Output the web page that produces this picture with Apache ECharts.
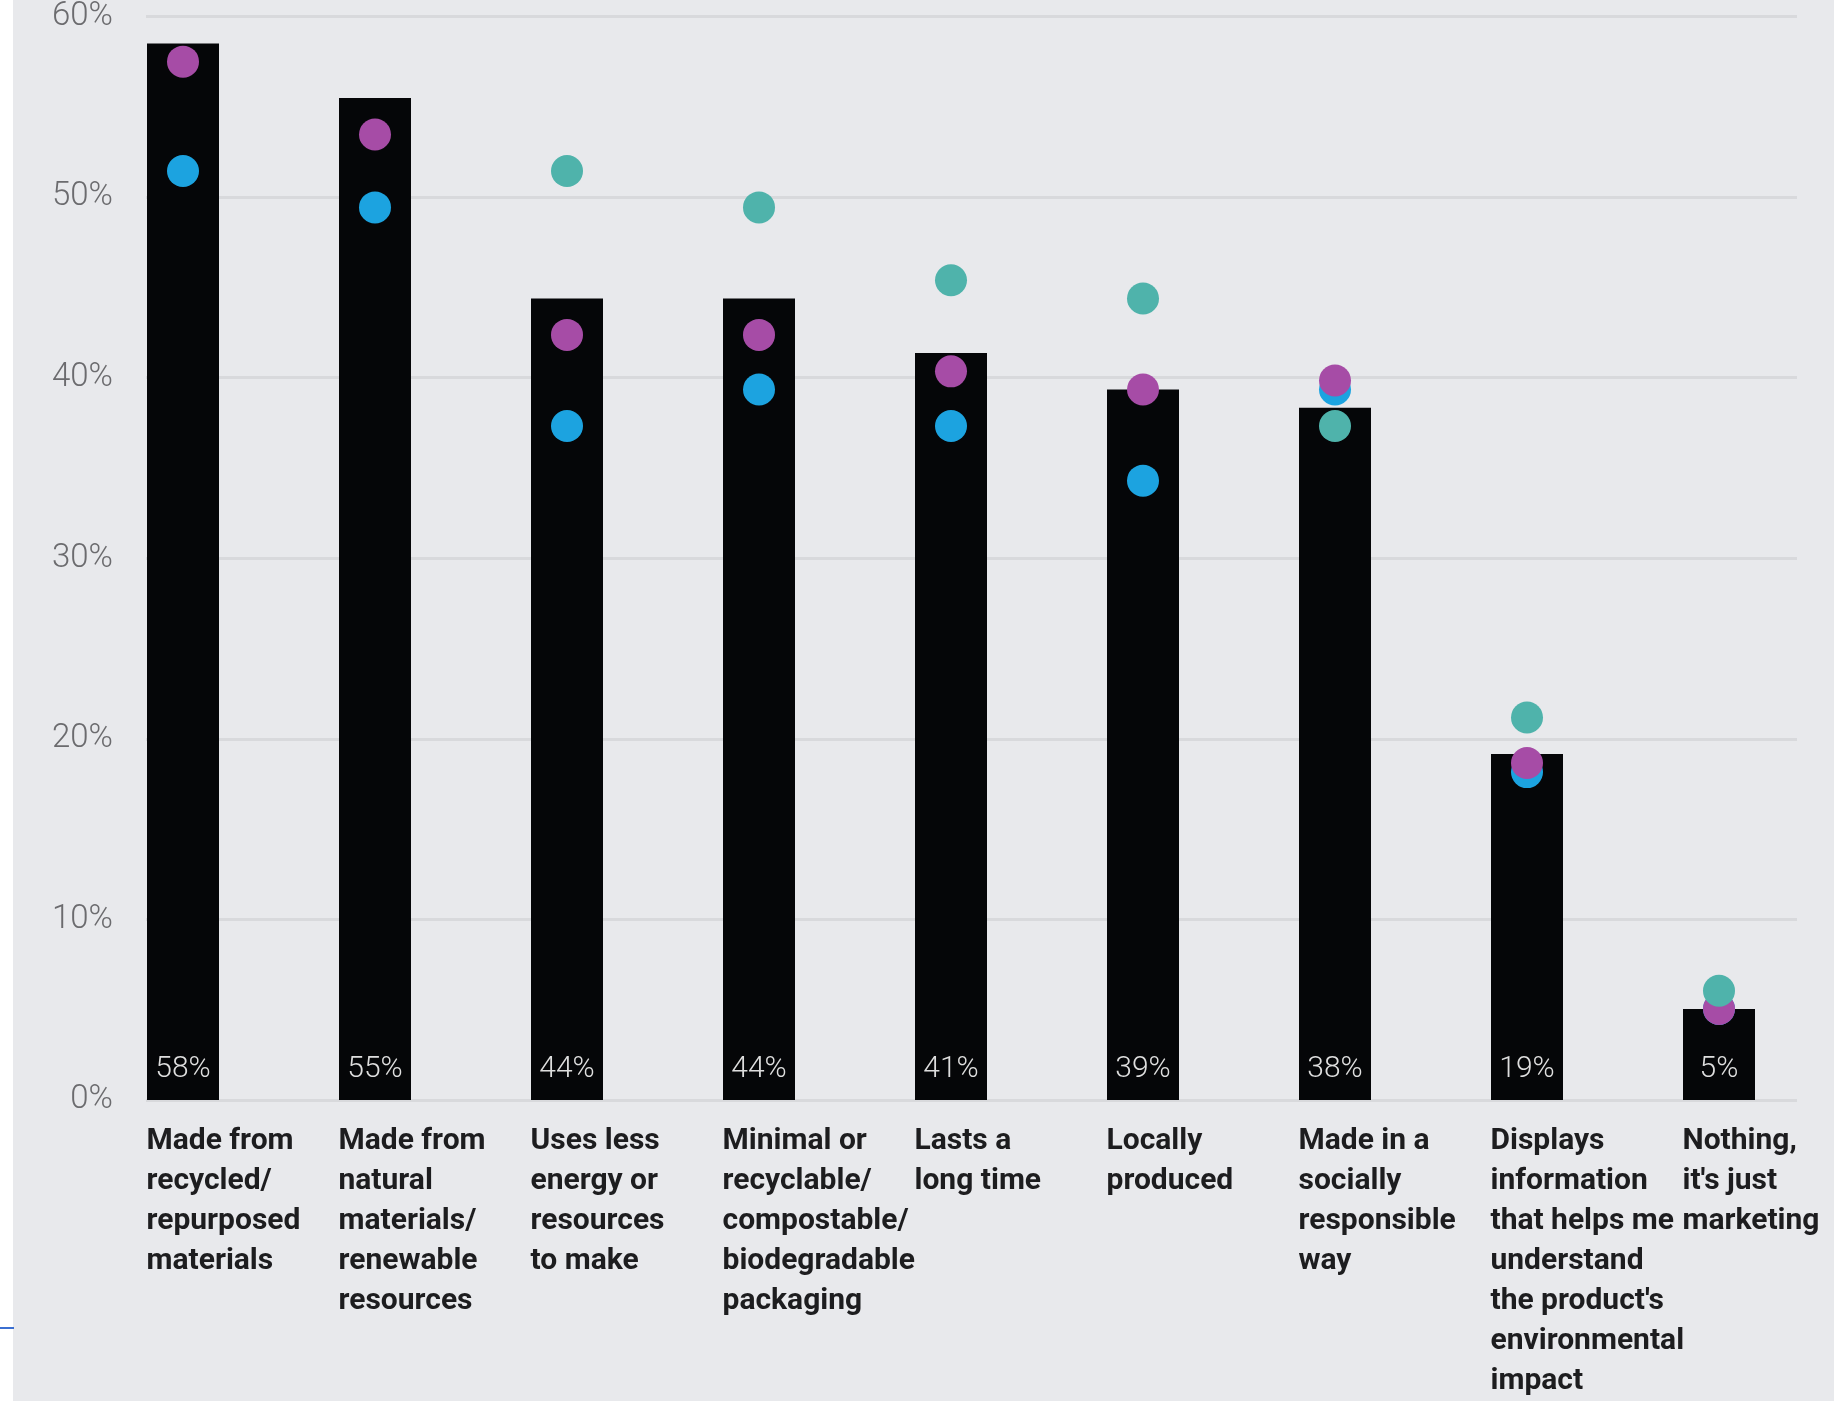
<!DOCTYPE html>
<html lang="en">
<head>
<meta charset="utf-8" />
<title>What makes a product sustainable</title>
<style>
  html, body { margin: 0; padding: 0; background: #e8e9ec; }
  #chart { width: 1834px; height: 1401px; }
</style>
<script src="https://cdn.jsdelivr.net/npm/echarts@6/dist/echarts.min.js"></script>
</head>
<body>
<div id="chart"></div>
<script>
// categories along the bottom
var categories = [
  'Made from\nrecycled/\nrepurposed\nmaterials',
  'Made from\nnatural\nmaterials/\nrenewable\nresources',
  'Uses less\nenergy or\nresources\nto make',
  'Minimal or\nrecyclable/\ncompostable/\nbiodegradable\npackaging',
  'Lasts a\nlong time',
  'Locally\nproduced',
  'Made in a\nsocially\nresponsible\nway',
  "Displays\ninformation\nthat helps me\nunderstand\nthe product's\nenvironmental\nimpact",
  "Nothing,\nit's just\nmarketing"
];
// black bars (all respondents)
var totalShare = [58, 55, 44, 44, 41, 39, 38, 19, 5];
// dots
var blueShare = [51, 49, 37, 39, 37, 34, 39, 18, 5];
var purpleShare = [57, 53, 42, 42, 40, 39, 39.5, 18.5, 5];
var tealShare = [null, null, 51, 49, 45, 44, 37, 21, 6];
var yTicks = [0, 10, 20, 30, 40, 50, 60];

var font = "Roboto, 'Noto Sans', sans-serif";

var chart = echarts.init(document.getElementById('chart'));

function dots(name, data, color) {
  return {
    name: name,
    type: 'scatter',
    xAxisIndex: 1,
    yAxisIndex: 1,
    data: data,
    symbolSize: 32,
    itemStyle: { color: color, opacity: 1 },
    z: 5
  };
}

var option = {
  backgroundColor: '#e8e9ec',
  animation: false,
  grid: [
    // gridlines + y labels
    { left: 146, top: 7, width: 1651, height: 1093 },
    // bars and dots
    { left: 87, top: 7, width: 1728, height: 1093 },
    // category labels, shifted so they start at bar's left edge
    { left: 50.5, top: 7, width: 1728, height: 1093 }
  ],
  xAxis: [
    { gridIndex: 0, type: 'category', data: categories, show: false },
    { gridIndex: 1, type: 'category', data: categories,
      axisLine: { show: false }, axisTick: { show: false }, axisLabel: { show: false } },
    { gridIndex: 2, type: 'category', data: categories,
      axisLine: { show: false }, axisTick: { show: false },
      axisLabel: {
        interval: 0, align: 'left', verticalAlign: 'top', margin: 25,
        fontFamily: font, fontWeight: 'bold', fontSize: 30, lineHeight: 40,
        color: '#1d1d1f'
      } }
  ],
  yAxis: [
    { gridIndex: 0, type: 'value', min: yTicks[0], max: yTicks[yTicks.length - 1], interval: 10,
      axisLine: { show: false }, axisTick: { show: false },
      axisLabel: { formatter: '{value}%', margin: 33, fontFamily: font, fontWeight: 300, fontSize: 33, color: '#6b6b6e' },
      splitLine: { lineStyle: { color: '#d8d9dc', width: 3 } } },
    { gridIndex: 1, type: 'value', min: 0, max: 60, show: false, splitLine: { show: false } },
    { gridIndex: 2, type: 'value', min: 0, max: 60, show: false, splitLine: { show: false } }
  ],
  series: [
    {
      name: 'All',
      type: 'bar',
      xAxisIndex: 1,
      yAxisIndex: 1,
      data: totalShare,
      barWidth: 72,
      itemStyle: { color: '#050608' },
      label: {
        show: true, position: 'insideBottom', distance: 16,
        formatter: '{c}%', fontFamily: font, fontWeight: 300, fontSize: 30, color: '#dedede'
      },
      z: 3
    },
    dots('Blue group', blueShare, '#1ca3e0'),
    dots('Purple group', purpleShare, '#a64ca6'),
    dots('Teal group', tealShare, '#4fb3ab')
  ],
  graphic: [
    { type: 'rect', left: 0, top: 0, shape: { width: 13, height: 1401 }, style: { fill: '#ffffff' } },
    { type: 'line', shape: { x1: 0, y1: 1328, x2: 14, y2: 1328 }, style: { stroke: '#3b6fd1', lineWidth: 2 } }
  ]
};

chart.setOption(option);

window.onresize = function () {
  chart.resize();
};
</script>
</body>
</html>
